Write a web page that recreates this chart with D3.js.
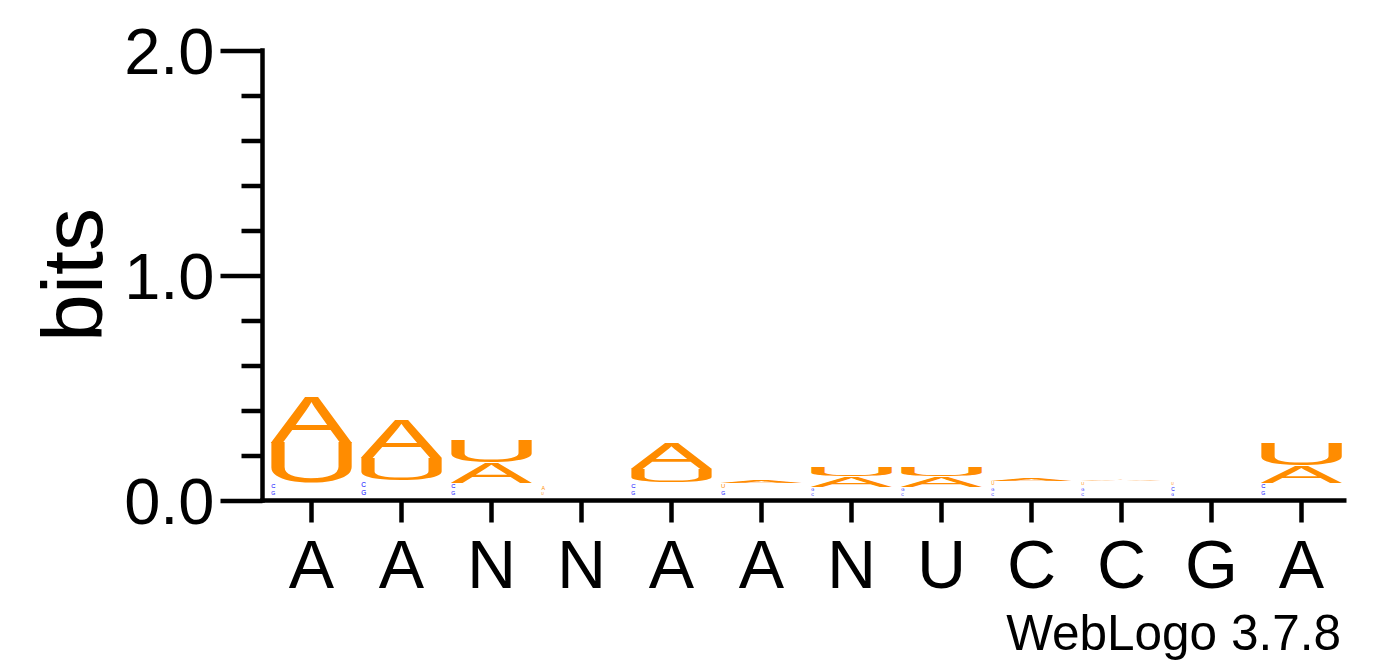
<!DOCTYPE html>
<html><head><meta charset="utf-8">
<script src="https://cdn.jsdelivr.net/npm/d3@7"></script>
<style>body{margin:0;background:#fff} svg{display:block}</style>
</head><body>
<svg id="chart" width="1392" height="667"></svg>
<script>
// ---- data ----
const positionLabels = ["A","A","N","N","A","A","N","U","C","C","G","A"];
// each column: [letter, bits] from bottom to top
const col1  = [["G",0.030],["C",0.034],["U",0.177],["A",0.202]];
const col2  = [["G",0.037],["C",0.038],["U",0.097],["A",0.173]];
const col3  = [["G",0.030],["C",0.034],["A",0.088],["U",0.097]];
const col4  = [["C",0.003],["G",0.003],["U",0.020],["A",0.030]];
const col5  = [["G",0.030],["C",0.035],["U",0.059],["A",0.111]];
const col6  = [["G",0.030],["U",0.034],["A",0.009]];
const col7  = [["C",0.022],["G",0.022],["A",0.047],["U",0.042]];
const col8  = [["C",0.020],["G",0.024],["A",0.047],["U",0.042]];
const col9  = [["C",0.023],["G",0.023],["U",0.025],["A",0.008]];
const col10 = [["C",0.023],["G",0.023],["U",0.024],["A",0.006]];
const col11 = [["G",0.020],["C",0.028],["U",0.020],["A",0.003]];
const col12 = [["G",0.030],["C",0.034],["A",0.075],["U",0.096]];
const columns = [col1,col2,col3,col4,col5,col6,col7,col8,col9,col10,col11,col12];
const yMajorTicks = [0, 1, 2];
const yTickLabels = ["0.0", "1.0", "2.0"];
const yMinorTicks = [0.2,0.4,0.6,0.8,1.2,1.4,1.6,1.8];
const yAxisTitle = "bits";
const fineprint = "WebLogo 3.7.8";

// ---- styles ----
const letterColors = {A:"#FF8C00", U:"#FF8C00", C:"#0000FF", G:"#0000FF"};
const FONT = "'Liberation Sans', Arial, Helvetica, sans-serif";

const svg = d3.select("#chart");
const x = d3.scaleBand().domain(d3.range(columns.length)).range([266.5, 1346.5]);
const y = d3.scaleLinear().domain([0, 2]).range([500.5, 50.5]);
const stackPad = 3.5;   // gap between axis line and stack base
const letterPad = 4;

// glyph ink metrics via canvas
const ctx = document.createElement("canvas").getContext("2d");
ctx.font = "100px " + FONT;
const metricCache = {};
function glyph(ch){
  if(!metricCache[ch]){
    const t = ctx.measureText(ch);
    metricCache[ch] = {l:t.actualBoundingBoxLeft, r:t.actualBoundingBoxRight,
                       a:t.actualBoundingBoxAscent, d:t.actualBoundingBoxDescent};
  }
  return metricCache[ch];
}

const gLetters = svg.append("g");
columns.forEach((col, i) => {
  let cum = 0;
  const x0 = x(i) + letterPad, w = x.bandwidth() - 2*letterPad;
  col.forEach(([ch, b]) => {
    const yB = y(cum) - stackPad, yT = y(cum + b) - stackPad;
    cum += b;
    const h = yB - yT;
    if (h < 0.8) return;
    const g = glyph(ch);
    const gw = g.l + g.r, gh = g.a + g.d;
    let tr, fs = 100;
    if (h >= 2.5 && h < 9) {
      // tiny glyph: natural aspect, at the left of the box
      const s = (h * 0.55) / gh;
      const yc = (yB + yT) / 2;
      tr = `translate(${x0 + 1 + g.l*s},${yc + (g.a - g.d)/2*s}) scale(${s})`;
    } else {
      const sx = w / gw, sy = h / gh;
      tr = `translate(${x0 + g.l*sx},${yB - g.d*sy}) scale(${sx},${sy})`;
    }
    gLetters.append("text")
      .attr("transform", tr)
      .attr("font-family", FONT)
      .attr("font-size", fs)
      .attr("fill", letterColors[ch])
      .text(ch);
  });
});

// ---- y axis ----
const axisX = 262.5;
const gyMinor = svg.append("g").attr("transform", `translate(${axisX},0)`)
  .call(d3.axisLeft(y).tickValues(yMinorTicks).tickFormat("").tickSize(21).tickSizeOuter(0));
gyMinor.select(".domain").remove();
gyMinor.selectAll(".tick line").attr("stroke","#000").attr("stroke-width",4.5);

const gy = svg.append("g").attr("transform", `translate(${axisX},0)`)
  .call(d3.axisLeft(y).tickValues(yMajorTicks).tickFormat((d,i)=>yTickLabels[i]).tickSize(42).tickSizeOuter(0).tickPadding(6));
gy.select(".domain").remove();
gy.selectAll(".tick line").attr("stroke","#000").attr("stroke-width",4.5);
gy.selectAll(".tick text").attr("font-family",FONT).attr("font-size",65).attr("fill","#000").attr("dy","0.36em");
gy.attr("font-family", FONT);

svg.append("line").attr("x1",axisX).attr("x2",axisX).attr("y1",y(2)-2.25).attr("y2",y(0)+2.25)
  .attr("stroke","#000").attr("stroke-width",4.5);

// ---- x axis ----
const gx = svg.append("g").attr("transform", `translate(0,${y(0)})`)
  .call(d3.axisBottom(x).tickFormat(i=>positionLabels[i]).tickSize(22).tickSizeOuter(0));
gx.select(".domain").remove();
gx.append("line").attr("x1",axisX-2.25).attr("x2",x.range()[1]).attr("stroke","#000").attr("stroke-width",4.5);
gx.selectAll(".tick line").attr("stroke","#000").attr("stroke-width",4.5);
gx.selectAll(".tick text").attr("font-family",FONT).attr("font-size",68).attr("fill","#000").attr("y",87.5).attr("dy",0);
gx.attr("font-family", FONT);

// ---- titles ----
svg.append("text").attr("transform","translate(102,275) rotate(-90)")
  .attr("text-anchor","middle").attr("font-family",FONT).attr("font-size",86).attr("fill","#000")
  .text(yAxisTitle);
svg.append("text").attr("x",1341).attr("y",650).attr("text-anchor","end")
  .attr("font-family",FONT).attr("font-size",49.5).attr("fill","#000").text(fineprint);
</script>
</body></html>
